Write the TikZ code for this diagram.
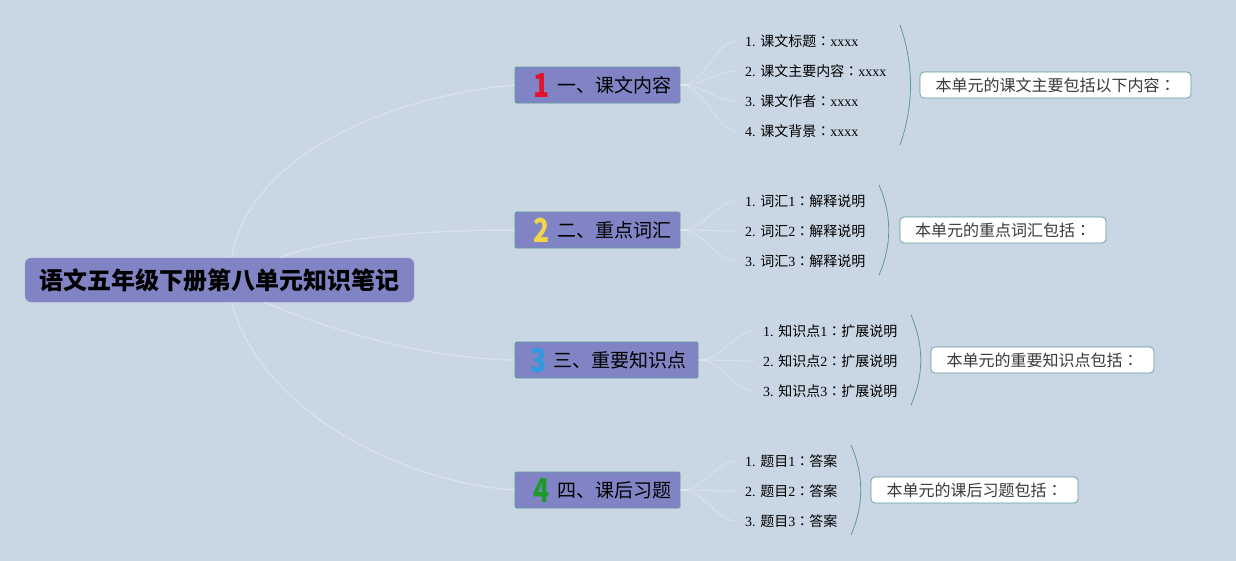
\documentclass[tikz,border=0pt]{standalone}
\usepackage{fontspec}
\setmainfont{Liberation Serif}
\newfontfamily\cjk{Noto Sans CJK SC}
\newfontfamily\cjkc{Noto Sans CJK TC}
\usetikzlibrary{calc}
\definecolor{bg}{HTML}{C9D6E3}
\definecolor{nodefill}{HTML}{8084C4}
\definecolor{tealline}{HTML}{5E9A9C}
\definecolor{numred}{HTML}{E0142C}
\definecolor{numyellow}{HTML}{F2D646}
\definecolor{numblue}{HTML}{2C9BE0}
\definecolor{numgreen}{HTML}{1E9A2A}
\definecolor{txtgrey}{HTML}{3A3A3A}
\tikzset{
  rootbox/.style={fill=nodefill, draw=nodefill!80!white, rounded corners=6pt, minimum width=389pt, minimum height=44pt, inner sep=0pt, font=\cjk\bfseries\fontsize{24}{24}\selectfont, text=black},
  branchbox/.style={fill=nodefill, draw=tealline, line width=0.8pt, rounded corners=1.5pt, minimum height=36pt, inner sep=0pt, font=\cjk\fontsize{19}{19}\selectfont, text=black},
  leaf/.style={anchor=west, inner sep=0pt, font=\fontsize{14}{14}\selectfont, text=black},
  callout/.style={fill=white, draw=tealline, line width=0.7pt, rounded corners=4pt, minimum height=26pt, inner sep=0pt, font=\cjk\fontsize{16}{16}\selectfont, text=txtgrey},
  trunk/.style={draw=white, opacity=0.28, line width=1.5pt},
  twig/.style={draw=white, opacity=0.25, line width=1.1pt},
  bracket/.style={draw=tealline, line width=0.8pt},
}
\newcommand{\numg}[3]{\hspace*{#3}\smash{\raisebox{-5pt}{\scalebox{0.8}[1]{\cjk\bfseries\fontsize{33}{33}\selectfont\textcolor{#1}{#2}}}}\hspace{7pt}}
\newcommand{\cj}[1]{{\cjk #1}}
\newcommand{\colonc}{{\cjkc ：}}
\begin{document}
\begin{tikzpicture}[x=1pt,y=-1pt]
\useasboundingbox (0,0) rectangle (1236,560);
\fill[bg] (-2,-2) rectangle (1238,562);

% root
\node[rootbox] (root) at (219.5,280) {语文五年级下册第八单元知识笔记};

% branches
\node[branchbox, minimum width=165pt] (b1) at (597.5,85) {\numg{numred}{1}{10pt}一、课文内容};
\node[branchbox, minimum width=165pt] (b2) at (597.5,230) {\numg{numyellow}{2}{10pt}二、重点词汇};
\node[branchbox, minimum width=183pt] (b3) at (606.5,360) {\numg{numblue}{3}{4pt}三、重要知识点};
\node[branchbox, minimum width=165pt] (b4) at (597.5,490) {\numg{numgreen}{4}{10pt}四、课后习题};

% root to branch connectors
\coordinate (r1) at ($(root.north)+(12,0)$);
\coordinate (r2) at ($(root.north)+(60,0)$);
\coordinate (r3) at ($(root.south)+(45,0)$);
\coordinate (r4) at ($(root.south)+(12,0)$);
\draw[trunk] (r1) .. controls (250,150) and (400,95) .. (b1.west);
\draw[trunk] (r2) .. controls (330,238) and (420,230) .. (b2.west);
\draw[trunk] (r3) .. controls (330,330) and (420,358) .. (b3.west);
\draw[trunk] (r4) .. controls (260,410) and (400,482) .. (b4.west);

% leaves group 1
\node[leaf] (l11) at (745,41) {1. \cj{课文标题}\colonc xxxx};
\node[leaf] (l12) at (745,71) {2. \cj{课文主要内容}\colonc xxxx};
\node[leaf] (l13) at (745,101) {3. \cj{课文作者}\colonc xxxx};
\node[leaf] (l14) at (745,131) {4. \cj{课文背景}\colonc xxxx};
% leaves group 2
\node[leaf] (l21) at (745,201) {1. \cj{词汇}1\colonc\cj{解释说明}};
\node[leaf] (l22) at (745,231) {2. \cj{词汇}2\colonc\cj{解释说明}};
\node[leaf] (l23) at (745,261) {3. \cj{词汇}3\colonc\cj{解释说明}};
% leaves group 3
\node[leaf] (l31) at (763,331) {1. \cj{知识点}1\colonc\cj{扩展说明}};
\node[leaf] (l32) at (763,361) {2. \cj{知识点}2\colonc\cj{扩展说明}};
\node[leaf] (l33) at (763,391) {3. \cj{知识点}3\colonc\cj{扩展说明}};
% leaves group 4
\node[leaf] (l41) at (745,461) {1. \cj{题目}1\colonc\cj{答案}};
\node[leaf] (l42) at (745,491) {2. \cj{题目}2\colonc\cj{答案}};
\node[leaf] (l43) at (745,521) {3. \cj{题目}3\colonc\cj{答案}};

% branch to leaf connectors
\foreach \b/\l in {b1/l11,b1/l12,b1/l13,b1/l14,b2/l21,b2/l22,b2/l23,b3/l31,b3/l32,b3/l33,b4/l41,b4/l42,b4/l43}{
  \draw[twig] (\b.east) .. controls ($(\b.east)+(25,0)$) and ($(\l.west)+(-30,0)$) .. ($(\l.west)+(-8,0)$);
}

% brackets
\coordinate (k1a) at (900,25);  \coordinate (k1b) at (900,145);
\coordinate (k2a) at (879,185); \coordinate (k2b) at (879,275);
\coordinate (k3a) at (911,315); \coordinate (k3b) at (911,405);
\coordinate (k4a) at (851,445); \coordinate (k4b) at (851,535);
\draw[bracket] (k1a) .. controls (914,65) and (914,105) .. (k1b);
\draw[bracket] (k2a) .. controls (892,215) and (892,245) .. (k2b);
\draw[bracket] (k3a) .. controls (924,345) and (924,375) .. (k3b);
\draw[bracket] (k4a) .. controls (864,475) and (864,505) .. (k4b);

% callouts
\node[callout, minimum width=271pt] (c1) at (1055.5,85) {本单元的课文主要包括以下内容\colonc};
\node[callout, minimum width=206pt] (c2) at (1003,230) {本单元的重点词汇包括\colonc};
\node[callout, minimum width=223pt] (c3) at (1042.5,360) {本单元的重要知识点包括\colonc};
\node[callout, minimum width=207pt] (c4) at (974.5,490) {本单元的课后习题包括\colonc};
\end{tikzpicture}
\end{document}
